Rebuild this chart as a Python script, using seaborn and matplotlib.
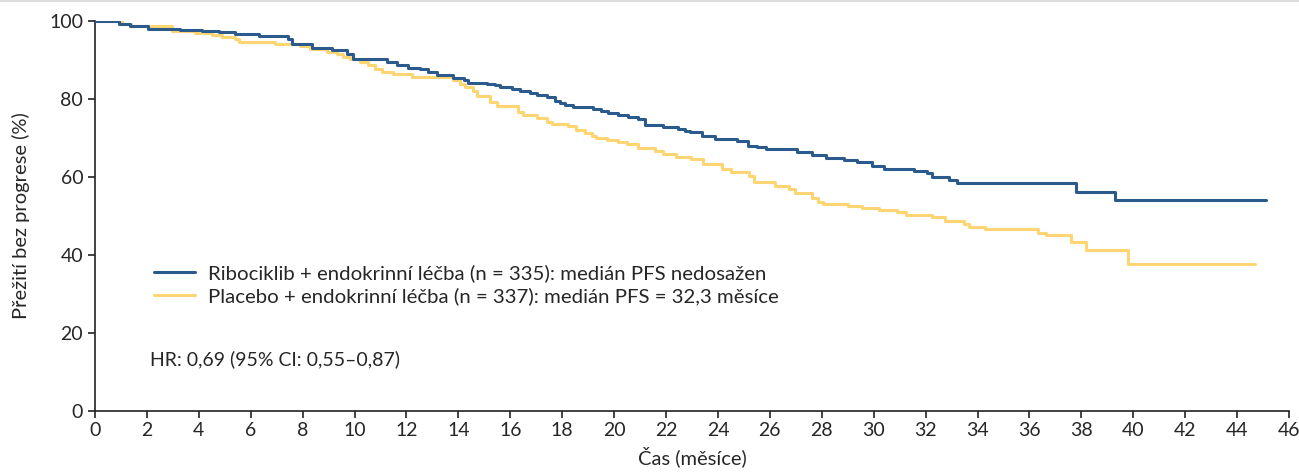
import pandas as pd
import seaborn as sns
import matplotlib.pyplot as plt
from matplotlib.lines import Line2D

# data (step changes: month, % free of progression)
ribo_t = [0, 0.92, 1.35, 2.05, 3.27, 4.11, 4.78, 5.4, 6.33, 7.42,
          7.58, 8.35, 9.12, 9.7, 9.96, 11.24, 11.62, 12.07, 12.52, 12.84,
          13.16, 13.8, 14.2, 14.38, 15.09, 15.41, 15.6, 16.05, 16.37, 16.76,
          17.02, 17.4, 17.72, 17.91, 18.1, 18.42, 19.19, 19.5, 19.77, 20.15,
          20.54, 20.93, 21.19, 21.89, 22.47, 22.73, 22.92, 23.37, 23.88, 24.72,
          25.17, 25.49, 25.87, 27.05, 27.64, 28.18, 28.85, 29.35, 29.94, 30.4,
          31.56, 32.06, 32.26, 32.91, 33.21, 37.8, 39.29, 45.1]
ribo_s = [100, 99.1, 98.6, 98.0, 97.6, 97.3, 97.0, 96.6, 96.2, 95.3,
          94.1, 93.0, 92.6, 91.5, 90.2, 89.4, 88.6, 87.9, 87.5, 86.9,
          86.0, 85.3, 84.8, 84.1, 83.8, 83.4, 82.9, 82.4, 82.0, 81.5,
          81.0, 80.4, 79.5, 78.8, 78.3, 77.8, 77.4, 76.9, 76.3, 75.8,
          75.3, 74.7, 73.3, 72.7, 72.3, 71.7, 71.4, 70.4, 69.7, 69.2,
          68.0, 67.5, 67.0, 66.3, 65.6, 64.9, 64.4, 63.8, 62.8, 62.1,
          61.5, 60.9, 59.8, 59.1, 58.4, 56.2, 54.1, 54.1]

plac_t = [0, 1.03, 1.4, 2.95, 3.85, 4.49, 4.88, 5.39, 5.56, 6.93,
          7.9, 8.28, 8.93, 9.31, 9.57, 9.82, 10.21, 10.53, 10.79, 11.04,
          11.49, 12.2, 13.8, 14.06, 14.25, 14.57, 14.73, 15.22, 15.47, 16.31,
          16.5, 17.02, 17.4, 17.6, 18.23, 18.55, 18.87, 19.13, 19.32, 19.71,
          20.15, 20.48, 20.93, 21.57, 21.89, 22.4, 22.98, 23.43, 24.14, 24.52,
          25.2, 25.39, 26.2, 26.74, 26.98, 27.64, 27.87, 28.05, 29.01, 29.56,
          30.2, 30.9, 31.24, 32.26, 32.73, 33.47, 33.68, 34.28, 36.34, 36.65,
          37.6, 38.17, 39.79, 44.7]
plac_s = [100, 99.2, 98.6, 97.4, 96.9, 96.4, 95.9, 95.4, 94.5, 94.1,
          93.5, 92.8, 92.1, 91.4, 90.8, 90.1, 89.3, 88.6, 87.6, 86.9,
          86.3, 85.5, 84.8, 83.8, 82.9, 82.0, 80.7, 79.2, 78.1, 76.7,
          75.8, 75.1, 74.1, 73.5, 73.0, 72.0, 71.1, 70.4, 70.0, 69.4,
          68.8, 68.3, 67.3, 66.7, 65.8, 65.1, 64.5, 63.3, 62.1, 61.3,
          60.2, 58.7, 57.6, 56.8, 55.9, 54.5, 53.6, 53.0, 52.6, 52.1,
          51.5, 50.9, 50.3, 49.7, 48.7, 47.9, 47.2, 46.5, 45.6, 45.0,
          43.3, 41.2, 37.5, 37.5]

labels = ['Ribociklib + endokrinní léčba (n = 335): medián PFS nedosažen',
          'Placebo + endokrinní léčba (n = 337): medián PFS = 32,3 měsíce']
colors = ['#2b5a8c', '#fdd572']
x_ticks = list(range(0, 47, 2))
y_ticks = [0, 20, 40, 60, 80, 100]

df = pd.concat([
    pd.DataFrame({'cas': ribo_t, 'preziti': ribo_s, 'rameno': labels[0]}),
    pd.DataFrame({'cas': plac_t, 'preziti': plac_s, 'rameno': labels[1]}),
])

sns.set_style('ticks')
plt.rcParams['font.family'] = ['Lato', 'DejaVu Sans']

fig, ax = plt.subplots(figsize=(12.99, 4.74), dpi=100)
fig.subplots_adjust(left=0.0731, right=0.9923, bottom=0.1336, top=0.9563)

sns.lineplot(data=df, x='cas', y='preziti', hue='rameno', hue_order=labels,
             palette=colors, drawstyle='steps-post', estimator=None,
             linewidth=2.2, ax=ax, legend=False, sort=False)
# blue curve on top of the yellow one
ax.lines[1].set_zorder(2)
ax.lines[0].set_zorder(3)

ax.set_xlim(0, 46)
ax.set_ylim(0, 100)
ax.set_xticks(x_ticks)
ax.set_yticks(y_ticks)
ax.tick_params(labelsize=14, length=5, width=1.2, color='#222222')
ax.set_xlabel('Čas (měsíce)', fontsize=14.5, labelpad=5)
ax.set_ylabel('Přežití bez progrese (%)', fontsize=14.5, labelpad=14)
sns.despine(ax=ax)
for s in ['left', 'bottom']:
    ax.spines[s].set_linewidth(1.2)
    ax.spines[s].set_color('#222222')

handles = [Line2D([], [], color=c, linewidth=2.2) for c in colors]
ax.legend(handles, labels, loc='center left', bbox_to_anchor=(0.034, 0.323),
          frameon=False, fontsize=14.7, handlelength=2.0, handletextpad=0.65,
          labelspacing=0.25)
ax.text(0.046, 0.133, 'HR: 0,69 (95% CI: 0,55–0,87)', transform=ax.transAxes,
        fontsize=14, va='center', ha='left')

# thin grey rule along the top of the image
fig.add_artist(Line2D([0, 1], [0.998, 0.998], color='#dddddd', linewidth=1.5,
                      transform=fig.transFigure))

fig.savefig('out.png', dpi=100)
